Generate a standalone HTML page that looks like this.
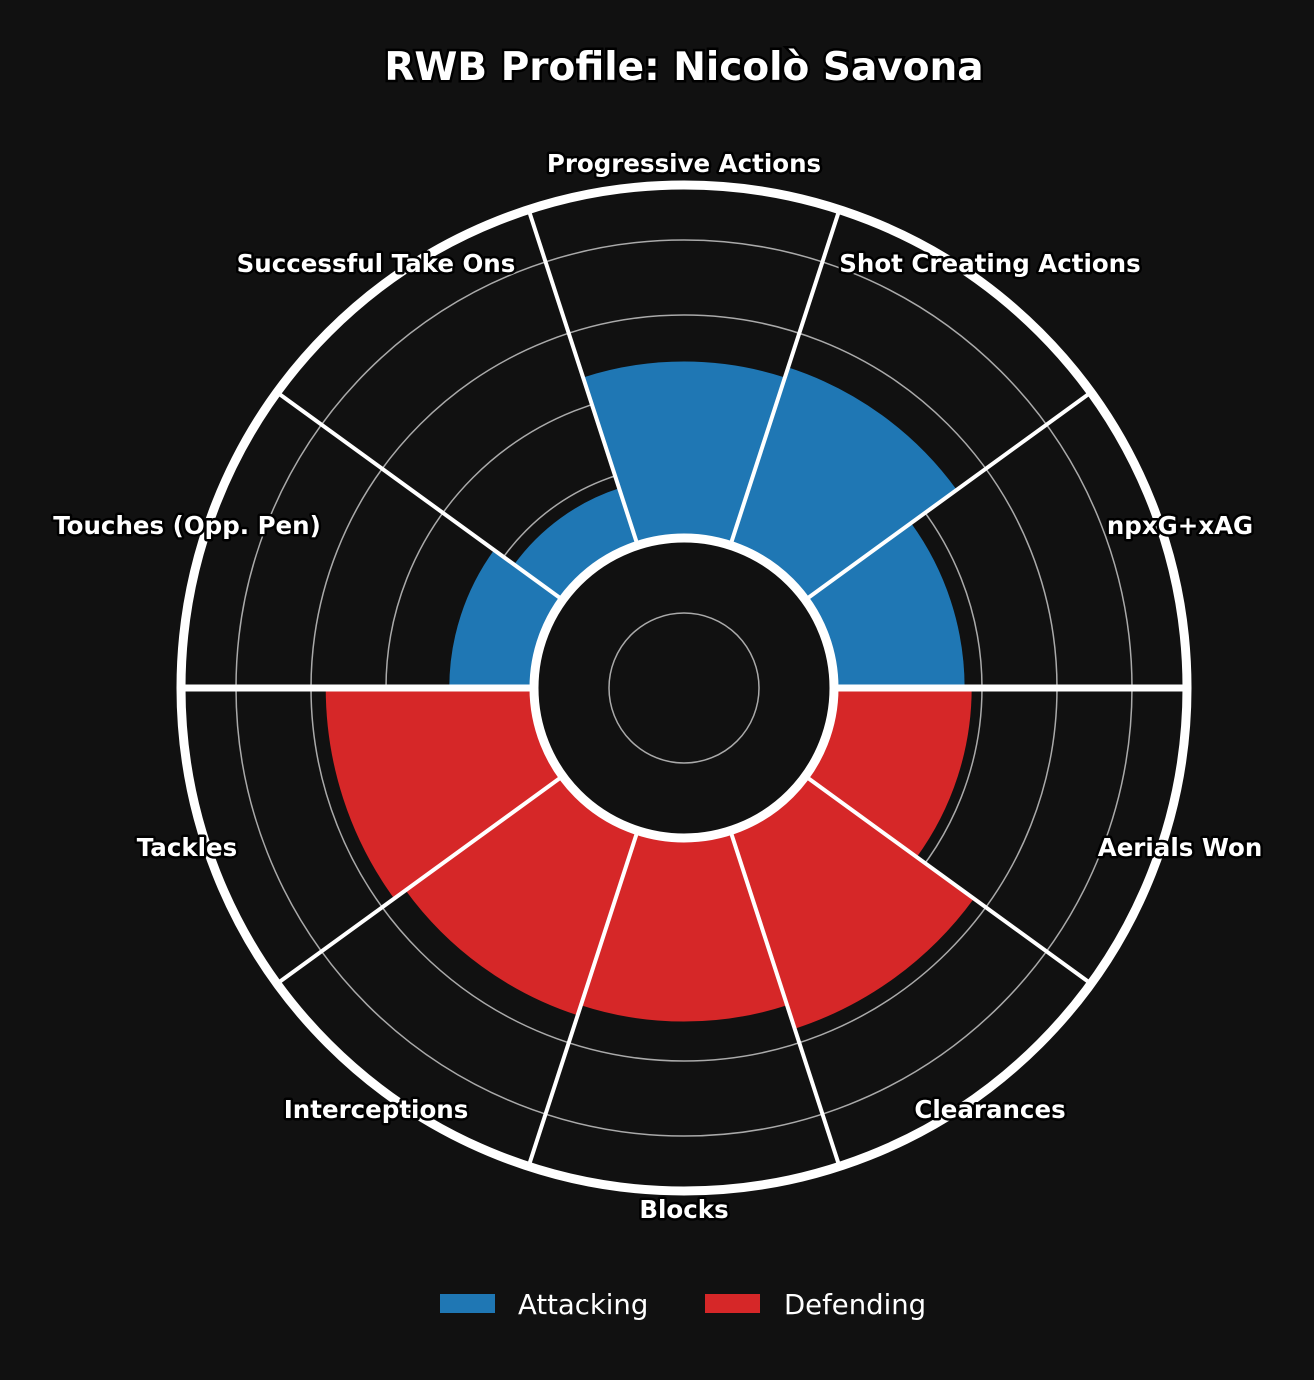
<!DOCTYPE html>
<html><head><meta charset="utf-8"><style>
html,body{margin:0;padding:0;background:#111111;}
svg{display:block;}
text{font-family:"DejaVu Sans","Liberation Sans",sans-serif;}
.lbl{font-weight:bold;font-size:24.5px;fill:#fff;stroke:#000;stroke-width:5px;paint-order:stroke;stroke-linejoin:round;}
</style></head><body>
<svg id="chart" width="1314" height="1380" viewBox="0 0 1314 1380" xmlns="http://www.w3.org/2000/svg">
<rect width="1314" height="1380" fill="#111111"/>
<text x="684" y="80" text-anchor="middle" font-size="39" font-weight="bold" fill="#fff" stroke="#000" stroke-width="5" paint-order="stroke">RWB Profile: Nicolò Savona</text>
<g id="grid"></g>
<g id="bars"></g>
<g id="seps"></g>
<g id="labels"></g>
<g>
<rect x="440" y="1294" width="55" height="19" fill="#1f77b4"/>
<text x="518" y="1314" font-size="27.5" fill="#fff">Attacking</text>
<rect x="705" y="1294" width="55" height="19" fill="#d62728"/>
<text x="784" y="1314" font-size="27.5" fill="#fff">Defending</text>
</g>
</svg>
<script>
const categories=["npxG+xAG","Shot Creating Actions","Progressive Actions","Successful Take Ons","Touches (Opp. Pen)","Tackles","Interceptions","Blocks","Clearances","Aerials Won"];
const values=[37,53,50,17,24,59,55,52,59,39];
const groups=["Attacking","Attacking","Attacking","Attacking","Attacking","Defending","Defending","Defending","Defending","Defending"];
const gridRadii=[223,298,373,448];
const cx=684,cy=688,R0=150,RMAX=503;
const ns="http://www.w3.org/2000/svg";
function rScale(v){return R0+v*(RMAX-R0)/100;}
function pt(r,deg){const a=deg*Math.PI/180;return [cx+r*Math.cos(a),cy-r*Math.sin(a)];}
const n=categories.length,step=360/n;
const grid=document.getElementById('grid');
gridRadii.forEach(r=>{
  const el=document.createElementNS(ns,'circle');
  el.setAttribute('cx',cx);el.setAttribute('cy',cy);el.setAttribute('r',r);
  el.setAttribute('fill','none');el.setAttribute('stroke','#aaaaaa');el.setAttribute('stroke-width','1.5');
  
  
  grid.appendChild(el);
});
const bars=document.getElementById('bars');
categories.forEach((c,i)=>{
  const a0=i*step,a1=(i+1)*step,r=rScale(values[i]);
  const p1=pt(r,a0),p2=pt(r,a1);
  const d=`M${cx},${cy} L${p1[0]},${p1[1]} A${r},${r} 0 0 0 ${p2[0]},${p2[1]} Z`;
  const el=document.createElementNS(ns,'path');
  el.setAttribute('d',d);
  el.setAttribute('fill',groups[i]==="Attacking"?"#1f77b4":"#d62728");
  el.setAttribute('stroke','#111111');el.setAttribute('stroke-width','0');
  
  
  bars.appendChild(el);
});
const seps=document.getElementById('seps');
for(let i=0;i<n;i++){
  const a=i*step,p1=pt(R0,a),p2=pt(RMAX,a);
  const el=document.createElementNS(ns,'line');
  el.setAttribute('x1',p1[0]);el.setAttribute('y1',p1[1]);el.setAttribute('x2',p2[0]);el.setAttribute('y2',p2[1]);
  el.setAttribute('stroke','#fff');el.setAttribute('stroke-width',(a%180===0)?'7':'4');
  
  
  seps.appendChild(el);
}
const outer=document.createElementNS(ns,'circle');
outer.setAttribute('cx',cx);outer.setAttribute('cy',cy);outer.setAttribute('r',RMAX);
outer.setAttribute('fill','none');outer.setAttribute('stroke','#fff');outer.setAttribute('stroke-width','9');


seps.appendChild(outer);
const inner=document.createElementNS(ns,'circle');
inner.setAttribute('cx',cx);inner.setAttribute('cy',cy);inner.setAttribute('r',R0);
inner.setAttribute('fill','#111111');inner.setAttribute('stroke','#fff');inner.setAttribute('stroke-width','9');


seps.appendChild(inner);
const ic=document.createElementNS(ns,'circle');
ic.setAttribute('cx',cx);ic.setAttribute('cy',cy);ic.setAttribute('r',75);
ic.setAttribute('fill','none');ic.setAttribute('stroke','#aaaaaa');ic.setAttribute('stroke-width','1.5');


seps.appendChild(ic);
const labelPos=[[1180,534],[990,272],[684,172],[376,272],[187,534],[187,856],[376,1118],[684,1218],[990,1118],[1180,856]];
const labels=document.getElementById('labels');
categories.forEach((c,i)=>{
  const el=document.createElementNS(ns,'text');
  el.setAttribute('x',labelPos[i][0]);el.setAttribute('y',labelPos[i][1]);
  el.setAttribute('text-anchor','middle');el.setAttribute('class','lbl');
  el.textContent=c;
  
  
  labels.appendChild(el);
});
</script>
</body></html>
